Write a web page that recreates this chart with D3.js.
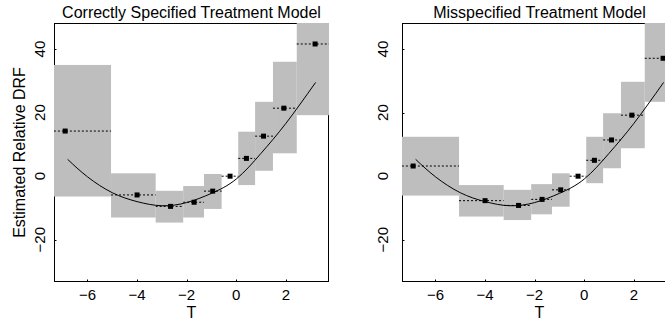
<!DOCTYPE html>
<html>
<head>
<meta charset="utf-8">
<script src="https://cdn.jsdelivr.net/npm/d3@7"></script>
<style>
  body { margin: 0; background: #fff; }
  svg text { font-family: "Liberation Sans", Arial, Helvetica, sans-serif; fill: #000; }
</style>
</head>
<body>
<div id="chart"></div>
<script>
// treatment bins (edges), mean T inside each bin
var binEdges = [-8, -5.05, -3.25, -2.14, -1.30, -0.59, 0.08, 0.76, 1.48, 2.44, 5];
var binMeans = [-6.90, -4.00, -2.65, -1.70, -0.95, -0.25, 0.41, 1.10, 1.92, 3.18];

// estimated relative DRF per bin with interval limits
var correctEst   = [14.2, -5.9, -9.5, -8.2, -4.7, 0, 5.6, 12.6, 21.4, 41.6];
var correctLower = [-6.4, -13.0, -14.6, -13.0, -10.3, 0, -2.8, 1.7, 7.2, 19.2];
var correctUpper = [35.0, 0.9, -4.6, -3.1, 0.7, 0, 14.0, 23.4, 36.0, 55];

var misEst   = [3.2, -7.7, -9.2, -7.3, -4.3, 0, 5.0, 11.4, 19.2, 37.1];
var misLower = [-6.1, -12.7, -13.8, -12.0, -9.6, 0, -2.2, 2.5, 8.8, 23.4];
var misUpper = [12.4, -2.8, -4.3, -2.5, 0.9, 0, 12.4, 19.8, 29.7, 55];

// true dose-response curve
var curveT   = [-6.8, -6, -5, -4, -3, -2, -1, 0, 1, 2, 3.2];
var curveVal = [5.3, -0.2, -5.2, -8.0, -9.3, -8.3, -5.4, -0.9, 7.2, 16.6, 29.5];

var xTicks = [-6, -4, -2, 0, 2];
var yTicks = [-20, 0, 20, 40];
var titles = ["Correctly Specified Treatment Model", "Misspecified Treatment Model"];

var width = 665, height = 320;
var plotW = 274, plotTop = 23.5, plotBottom = 281.5;

var svg = d3.select("#chart").append("svg")
    .attr("width", width)
    .attr("height", height);

function fmt(v) {
    return v < 0 ? "\u2212" + Math.abs(v) : "" + v;
}

function drawPanel(idx, left, est, lower, upper, yLabelX) {
    var x = d3.scaleLinear().domain([-7.33, 3.72]).range([left, left + plotW]);
    var y = d3.scaleLinear().domain([-33.2, 48.2]).range([plotBottom + 0.2, plotTop - 0.5]);

    var g = svg.append("g");

    // box and tiny inward ticks
    g.append("rect")
        .attr("x", left).attr("y", plotTop)
        .attr("width", plotW).attr("height", plotBottom - plotTop)
        .attr("fill", "none").attr("stroke", "#000").attr("stroke-width", 1);

    g.selectAll(".xtick").data(xTicks).enter().append("line")
        .attr("x1", d => Math.round(x(d)) + 0.5).attr("x2", d => Math.round(x(d)) + 0.5)
        .attr("y1", plotBottom).attr("y2", plotBottom - 2)
        .attr("stroke", "#000");

    g.selectAll(".ytick").data(yTicks).enter().append("line")
        .attr("y1", d => Math.round(y(d)) + 0.5).attr("y2", d => Math.round(y(d)) + 0.5)
        .attr("x1", left).attr("x2", left + 2)
        .attr("stroke", "#000");

    var clipId = "clip" + idx;
    svg.append("clipPath").attr("id", clipId)
        .append("rect")
        .attr("x", left - 0.5).attr("y", plotTop - 0.5)
        .attr("width", plotW + 1).attr("height", plotBottom - plotTop + 1);

    var inner = g.append("g").attr("clip-path", "url(#" + clipId + ")");

    var bins = binMeans.map((m, i) => ({
        lo: binEdges[i], hi: binEdges[i + 1], t: m,
        est: est[i], lower: lower[i], upper: upper[i]
    }));

    inner.selectAll(".ci").data(bins.filter(d => d.upper > d.lower)).enter().append("rect")
        .attr("x", d => x(d.lo))
        .attr("width", d => x(d.hi) - x(d.lo))
        .attr("y", d => y(d.upper))
        .attr("height", d => y(d.lower) - y(d.upper))
        .attr("fill", "#bebebe");

    inner.selectAll(".seg").data(bins).enter().append("line")
        .attr("x1", d => x(d.lo)).attr("x2", d => x(d.hi))
        .attr("y1", d => y(d.est)).attr("y2", d => y(d.est))
        .attr("stroke", "#000").attr("stroke-width", 1)
        .attr("stroke-dasharray", "2,2");

    var line = d3.line()
        .x(d => x(d[0]))
        .y(d => y(d[1]))
        .curve(d3.curveNatural);

    inner.append("path")
        .datum(curveT.map((t, i) => [t, curveVal[i]]))
        .attr("d", line)
        .attr("fill", "none").attr("stroke", "#000").attr("stroke-width", 1);

    inner.selectAll(".pt").data(bins).enter().append("rect")
        .attr("x", d => x(d.t) - 2.5).attr("y", d => y(d.est) - 2.5)
        .attr("width", 5).attr("height", 5)
        .attr("fill", "#000");

    // axis labels
    g.selectAll(".xlab").data(xTicks).enter().append("text")
        .attr("x", d => x(d)).attr("y", 299.5)
        .attr("text-anchor", "middle")
        .attr("font-size", 15)
        .text(fmt);

    g.selectAll(".ylab").data(yTicks).enter().append("text")
        .attr("transform", d => "translate(" + yLabelX + "," + y(d) + ") rotate(-90)")
        .attr("dy", "0.35em")
        .attr("text-anchor", "middle")
        .attr("font-size", 15)
        .text(fmt);

    g.append("text")
        .attr("x", left + plotW / 2).attr("y", 317.5)
        .attr("text-anchor", "middle")
        .attr("font-size", 16)
        .text("T");

    g.append("text")
        .attr("x", left + plotW / 2).attr("y", 17.5)
        .attr("text-anchor", "middle")
        .attr("font-size", 16)
        .text(titles[idx]);
}

drawPanel(0, 54.5, correctEst, correctLower, correctUpper, 39.5);
drawPanel(1, 402.5, misEst, misLower, misUpper, 382.5);

svg.append("text")
    .attr("transform", "translate(19.5," + ((plotTop + plotBottom) / 2) + ") rotate(-90)")
    .attr("dy", "0.35em")
    .attr("text-anchor", "middle")
    .attr("font-size", 16)
    .text("Estimated Relative DRF");
</script>
</body>
</html>
